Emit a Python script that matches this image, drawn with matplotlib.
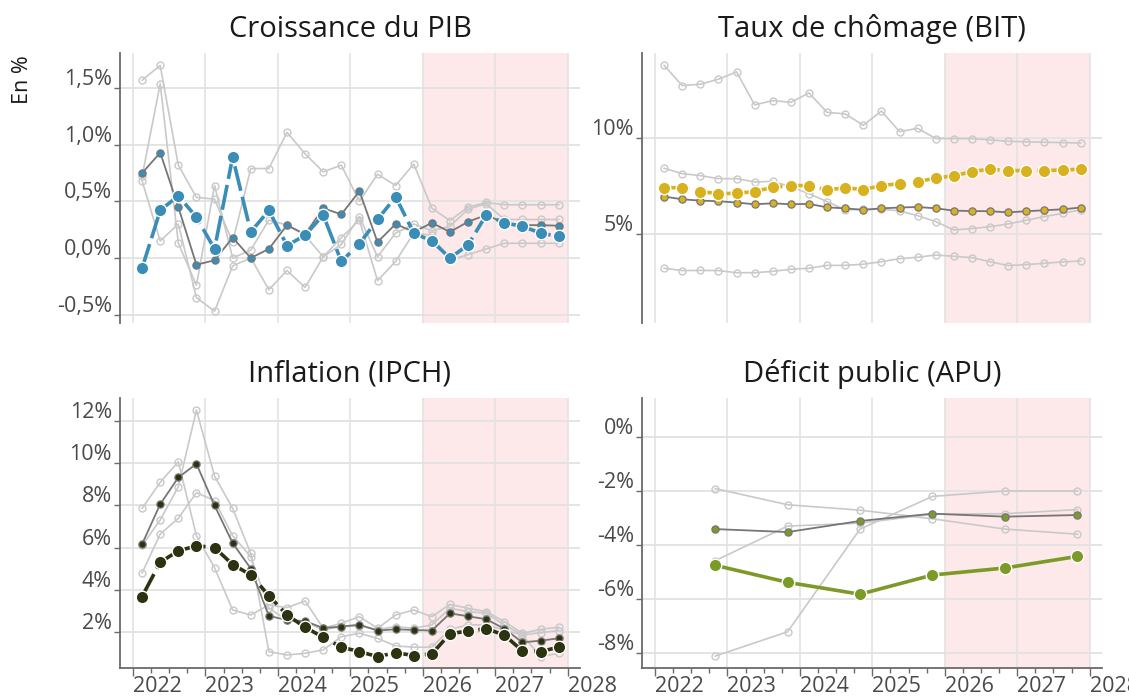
import matplotlib
matplotlib.use("Agg")
import matplotlib.pyplot as plt
from matplotlib.transforms import offset_copy

plt.rcParams['font.family'] = ['Open Sans', 'DejaVu Sans']

# ---------------- data ----------------
quarters = [f"{y}T{q}" for y in range(2022, 2028) for q in range(1, 5)]
years = [2022, 2023, 2024, 2025, 2026, 2027]

# Croissance du PIB (% t/t)
pib_main = [-0.09, 0.42, 0.55, 0.36, 0.08, 0.89, 0.23, 0.42, 0.11, 0.20, 0.38, -0.03,
            0.125, 0.34, 0.54, 0.22, 0.15, 0.0, 0.115, 0.38, 0.31, 0.28, 0.22, 0.19]
pib_ref = [0.75, 0.93, 0.45, -0.06, -0.02, 0.18, 0.0, 0.08, 0.29, 0.21, 0.44, 0.385,
           0.59, 0.14, 0.30, 0.23, 0.31, 0.23, 0.32, 0.38, 0.31, 0.29, 0.29, 0.285]
pib_other1 = [1.57, 1.70, 0.82, 0.535, 0.52, 0.14, 0.79, 0.79, 1.11, 0.92, 0.76, 0.82,
              0.50, 0.74, 0.64, 0.83, 0.44, 0.33, 0.45, 0.49, 0.47, 0.47, 0.47, 0.47]
pib_other2 = [0.72, 1.54, 0.13, -0.24, 0.64, 0.0, 0.07, 0.335, 0.29, 0.20, 0.01, 0.12,
              0.365, 0.01, 0.22, 0.30, 0.24, 0.28, 0.43, 0.48, 0.34, 0.34, 0.34, 0.34]
pib_other3 = [0.68, 0.15, 0.30, -0.35, -0.47, -0.07, 0.0, -0.28, -0.11, -0.26, 0.01, 0.18,
              0.335, -0.20, -0.03, 0.22, 0.20, -0.02, 0.03, 0.08, 0.13, 0.13, 0.13, 0.13]

# Taux de chômage (BIT, %)
cho_main = [7.40, 7.40, 7.20, 7.09, 7.11, 7.20, 7.42, 7.51, 7.51, 7.28, 7.40, 7.30,
            7.51, 7.61, 7.70, 7.91, 8.01, 8.24, 8.36, 8.29, 8.29, 8.29, 8.32, 8.36]
cho_ref = [6.94, 6.80, 6.73, 6.70, 6.63, 6.54, 6.59, 6.54, 6.56, 6.38, 6.33, 6.25,
           6.33, 6.37, 6.40, 6.33, 6.21, 6.19, 6.18, 6.12, 6.18, 6.23, 6.28, 6.37]
cho_other1 = [13.75, 12.70, 12.77, 13.03, 13.41, 11.70, 11.92, 11.83, 12.32, 11.31, 11.23, 10.64,
              11.38, 10.31, 10.48, 9.95, 9.95, 9.95, 9.88, 9.81, 9.78, 9.76, 9.74, 9.72]
cho_other2 = [8.41, 8.13, 8.03, 7.87, 7.87, 7.70, 7.73, 7.45, 7.09, 6.68, 6.25, 6.28,
              6.28, 6.20, 5.95, 5.64, 5.21, 5.28, 5.38, 5.52, 5.71, 5.90, 6.07, 6.25]
cho_other3 = [3.22, 3.10, 3.11, 3.10, 2.99, 2.99, 3.06, 3.17, 3.22, 3.37, 3.37, 3.43,
              3.56, 3.72, 3.79, 3.91, 3.84, 3.77, 3.56, 3.36, 3.41, 3.48, 3.55, 3.60]

# Inflation (IPCH, % g.a.)
inf_main = [3.67, 5.30, 5.84, 6.08, 6.00, 5.19, 4.70, 3.71, 2.79, 2.21, 1.73, 1.26,
            1.05, 0.81, 1.00, 0.86, 0.94, 1.90, 2.03, 2.14, 1.84, 1.08, 1.05, 1.26]
inf_ref = [6.16, 8.06, 9.33, 9.98, 8.00, 6.21, 5.00, 2.75, 2.55, 2.50, 2.17, 2.24,
           2.33, 2.05, 2.11, 2.08, 2.05, 2.87, 2.73, 2.59, 2.14, 1.49, 1.57, 1.68]
inf_other1 = [7.86, 9.10, 10.08, 6.56, 5.04, 3.03, 2.79, 3.27, 3.14, 3.46, 2.16, 2.40,
              2.71, 2.16, 2.79, 3.03, 2.71, 3.30, 3.11, 2.95, 2.48, 1.92, 2.11, 2.21]
inf_other2 = [6.10, 7.31, 8.89, 12.54, 9.40, 7.86, 5.72, 1.05, 0.89, 0.97, 1.13, 1.76,
              1.92, 1.68, 1.32, 1.26, 1.26, 2.11, 2.32, 2.32, 2.08, 1.84, 0.81, 0.97]
inf_other3 = [4.79, 6.64, 7.39, 8.61, 8.23, 6.56, 5.57, 3.11, 2.55, 2.48, 2.08, 2.24,
              2.27, 2.10, 2.24, 2.16, 2.32, 3.11, 2.95, 2.87, 2.32, 1.84, 1.95, 2.05]

# Déficit public (APU, % du PIB)
def_main = [-4.74, -5.37, -5.81, -5.10, -4.84, -4.41]
def_ref = [-3.40, -3.51, -3.10, -2.83, -2.94, -2.88]
def_other1 = [-8.10, -7.20, -3.40, -2.19, -1.99, -1.99]
def_other2 = [-4.57, -3.29, -3.18, -2.85, -2.83, -2.68]
def_other3 = [-1.90, -2.50, -2.70, -3.02, -3.40, -3.59]

titles = ["Croissance du PIB", "Taux de chômage (BIT)", "Inflation (IPCH)", "Déficit public (APU)"]
pib_ticks = [-0.5, 0.0, 0.5, 1.0, 1.5]
pib_labels = ["-0,5%", "0,0%", "0,5%", "1,0%", "1,5%"]
cho_ticks = [5, 10]
cho_labels = ["5%", "10%"]
inf_ticks = [2, 4, 6, 8, 10, 12]
inf_labels = ["2%", "4%", "6%", "8%", "10%", "12%"]
def_ticks = [-8, -6, -4, -2, 0]
def_labels = ["-8%", "-6%", "-4%", "-2%", "0%"]
year_ticks = [2022, 2023, 2024, 2025, 2026, 2027, 2028]
forecast_start, forecast_end = 2026, 2028


def qpos(label):
    y, q = label.split("T")
    return int(y) + (int(q) - 1) * 0.25 + 0.125


def apos(year):
    return year + 0.83


xq = [qpos(q) for q in quarters]
xa = [apos(y) for y in years]

# ---------------- style ----------------
W, H = 1129, 699
fig = plt.figure(figsize=(W / 100, H / 100), dpi=100)

def px_axes(x0, y0, w, h):
    return fig.add_axes([x0 / W, 1 - (y0 + h) / H, w / W, h / H])

ax_pib = px_axes(120, 53, 460, 270)
ax_cho = px_axes(642, 53, 460, 270)
ax_inf = px_axes(120, 398, 460, 270)
ax_def = px_axes(642, 398, 460, 270)

LIGHT = "#c9c9c9"
DARK = "#767676"
GRID = "#e2e2e2"
SPINE = "#6a6a6a"
TXT = "#4a4a4a"
PINK = "#fde9ea"

panels = [
    (ax_pib, xq, pib_main, pib_ref, [pib_other1, pib_other2, pib_other3], "#3a8db6",
     (-0.574, 1.81), pib_ticks, pib_labels, True),
    (ax_cho, xq, cho_main, cho_ref, [cho_other1, cho_other2, cho_other3], "#d8b11e",
     (0.38, 14.39), cho_ticks, cho_labels, True),
    (ax_inf, xq, inf_main, inf_ref, [inf_other1, inf_other2, inf_other3], "#2c3311",
     (0.27, 13.11), inf_ticks, inf_labels, True),
    (ax_def, xa, def_main, def_ref, [def_other1, def_other2, def_other3], "#7c9a27",
     (-8.54, 1.45), def_ticks, def_labels, False),
]

for i, (ax, x, main, ref, others, col, ylim, yt, ytl, dashed) in enumerate(panels):
    ax.set_xlim(2021.82, 2028.17)
    ax.set_ylim(*ylim)
    ax.axvspan(forecast_start, forecast_end, color=PINK, zorder=0, lw=0)
    ax.set_axisbelow(True)
    for yv in yt:
        ax.axhline(yv, color=GRID, lw=1.3, zorder=0.5)
    for xv in year_ticks:
        ax.axvline(xv, color=GRID, lw=1.3, zorder=0.5, alpha=0.9)

    for o in others:
        ax.plot(x, o, color=LIGHT, lw=1.2, marker="o", ms=5, mfc="none",
                mec=LIGHT, mew=1.0, zorder=2)
    ax.plot(x, ref, color=DARK, lw=1.3, marker="o", ms=5.2, mfc=col,
            mec=DARK, mew=0.9, zorder=3)
    ls = (0, (7, 1.7)) if dashed else "-"
    ax.plot(x, main, color=col, lw=2.6, ls=ls, marker="o", ms=9, mfc=col,
            mec="white", mew=1.0, zorder=4)

    # spines
    for s in ["top", "right"]:
        ax.spines[s].set_visible(False)
    ax.spines["left"].set_color(SPINE)
    ax.spines["left"].set_linewidth(1.3)
    bottom_row = i >= 2
    if bottom_row:
        ax.spines["bottom"].set_color(SPINE)
        ax.spines["bottom"].set_linewidth(1.3)
    else:
        ax.spines["bottom"].set_visible(False)

    # y ticks (labels drawn slightly above the gridlines)
    ax.set_yticks(yt)
    ax.set_yticklabels([])
    ax.tick_params(axis="y", length=4, width=1, color=SPINE, direction="out")
    lab_tr = offset_copy(ax.get_yaxis_transform(), fig=fig, x=-8, y=3, units="dots")
    for yv, lab in zip(yt, ytl):
        ax.text(0, yv, lab, transform=lab_tr, ha="right", va="baseline",
                fontsize=15.5, color=TXT)

    # x ticks
    ax.set_xticks(year_ticks)
    if bottom_row:
        ax.set_xticks([q + 0.25 * k for q in year_ticks[:-1] for k in (1, 2, 3)], minor=True)
        ax.tick_params(axis="x", which="major", length=6, width=1, color=SPINE,
                       labelsize=15.5, labelcolor=TXT, pad=0)
        ax.tick_params(axis="x", which="minor", length=3.5, width=1, color=SPINE)
        ax.set_xticklabels([str(t) for t in year_ticks])
        for t in ax.get_xticklabels():
            t.set_horizontalalignment("left")
    else:
        ax.tick_params(axis="x", which="both", length=0, labelbottom=False)

    ax.text(0.5, 1 + 16 / 270, titles[i], transform=ax.transAxes, ha="center",
            va="baseline", fontsize=21, color="#1a1a1a")

fig.text(22 / W, 1 - 80 / H, "En %", rotation=90, ha="center", va="center",
         fontsize=15.5, color="#1a1a1a")

fig.savefig("out.png", dpi=100)
